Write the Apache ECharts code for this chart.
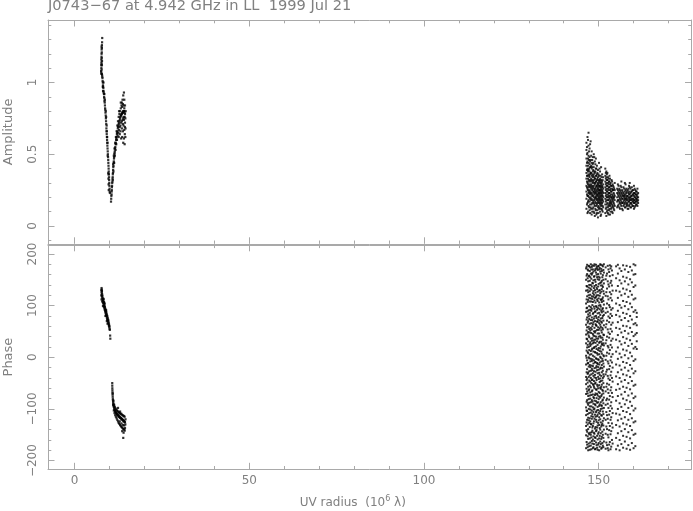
<!DOCTYPE html>
<html><head><meta charset="utf-8">
<script src="https://cdn.jsdelivr.net/npm/echarts@6/dist/echarts.min.js"></script>
<style>html,body{margin:0;padding:0;background:#fff}#c{width:693px;height:511px}</style>
</head><body><div id="c"></div>
<script>
// ---------------- data ----------------
const titleText = 'J0743\u221267 at 4.942 GHz in LL  1999 Jul 21';
const xMajorTicks = [0, 50, 100, 150];
const xMinorTicks = [10, 20, 30, 40, 60, 70, 80, 90, 110, 120, 130, 140, 160, 170];
const ampMajorTicks = [0, 0.5, 1];
const ampMinorTicks = [-0.1, 0.1, 0.2, 0.3, 0.4, 0.6, 0.7, 0.8, 0.9, 1.1, 1.2, 1.3, 1.4];
const phaseMajorTicks = [-200, -100, 0, 100, 200];
const phaseMinorTicks = [-180, -160, -140, -120, -80, -60, -40, -20, 20, 40, 60, 80, 120, 140, 160, 180];

// short baselines, amplitude: falling branch
const ampShortDown = [
[7.88,1.31],[7.84,1.28],[7.8,1.26],[7.78,1.24],[7.72,1.23],[7.75,1.21],[7.7,1.2],[7.68,1.18],[7.74,1.17],[7.62,1.16],
[7.66,1.14],[7.7,1.13],[7.6,1.12],[7.64,1.1],[7.72,1.09],[7.56,1.08],[7.6,1.07],[7.66,1.06],[7.78,1.06],[7.84,1.05],
[7.9,1.04],[7.95,1.03],[8.0,1.01],[8.06,1.0],[8.1,0.98],[8.15,0.97],[8.2,0.96],[8.24,0.94],[8.3,0.93],[8.37,0.92],
[8.42,0.9],[8.48,0.89],[8.53,0.87],[8.6,0.86],[8.66,0.84],[8.7,0.82],[8.76,0.81],[8.82,0.79],[8.88,0.77],[8.93,0.75],
[8.98,0.73],[9.03,0.71],[9.08,0.68],[9.12,0.66],[9.17,0.64],[9.22,0.62],[9.27,0.6],[9.32,0.58],[9.36,0.56],[9.41,0.54],
[9.46,0.52],[9.5,0.5],[9.55,0.48],[9.6,0.46],[9.64,0.44],[9.68,0.42],[9.72,0.4],[9.75,0.38],[9.79,0.36],[9.83,0.34],
[9.86,0.32],[9.9,0.3],[9.94,0.28],[9.98,0.26],[10.03,0.24],[10.08,0.23],
[8.04,0.97],[8.5,0.92],[8.9,0.8],[9.15,0.7],[9.3,0.62],[9.45,0.49],[9.62,0.37],[9.66,0.33],[9.7,0.29],[9.75,0.25],
[9.68,0.36],[8.25,1.0],[7.8,1.12],[9.0,0.76],[9.4,0.58],[7.7,1.25],[7.82,1.15],[8.12,0.94],[8.64,0.88],[9.2,0.66]
];
// short baselines, amplitude: rising branch
const ampShortUp = [
[10.4,0.17],[10.45,0.19],[10.5,0.21],[10.55,0.22],[10.58,0.24],[10.62,0.25],[10.66,0.27],[10.7,0.28],[10.74,0.3],[10.8,0.31],
[10.84,0.33],[10.88,0.34],[10.92,0.36],[10.96,0.37],[11.0,0.39],[11.05,0.41],[11.1,0.42],[11.15,0.44],[11.2,0.45],[11.25,0.47],
[11.3,0.48],[11.36,0.5],[11.42,0.51],[11.48,0.52],[11.55,0.54],[11.62,0.55],[11.7,0.57],[11.78,0.58],[11.85,0.6],[11.92,0.61],
[12.0,0.62],[12.08,0.64],[12.16,0.65],[12.25,0.66],[12.34,0.68],[12.42,0.69],[12.5,0.7],[12.6,0.71],[12.7,0.72],[12.8,0.73],
[12.9,0.74],[13.0,0.75],[13.1,0.76],[13.2,0.77],[13.3,0.77],[13.4,0.78],[13.5,0.78],[13.6,0.79],[13.7,0.79],[13.8,0.79],
[13.9,0.8],[14.0,0.8],[14.1,0.8],[14.2,0.8],[14.3,0.79],
[10.9,0.32],[11.0,0.43],[11.1,0.38],[11.2,0.49],[11.3,0.44],[11.4,0.54],[11.5,0.49],[11.6,0.58],[11.7,0.53],[11.8,0.62],
[11.9,0.57],[12.0,0.66],[12.1,0.6],[12.2,0.7],[12.3,0.63],[12.4,0.73],[12.5,0.65],[12.6,0.76],[12.7,0.67],[12.8,0.78],
[12.9,0.69],[13.0,0.8],[13.1,0.7],[13.2,0.82],[13.3,0.72],[13.4,0.84],[13.5,0.73],[13.6,0.83],[13.7,0.74],[13.8,0.85],
[13.9,0.75],[14.0,0.84],[14.1,0.74],[14.2,0.82],[14.3,0.76],
[12.6,0.62],[12.9,0.64],[13.1,0.66],[13.3,0.61],[13.5,0.68],[13.6,0.62],[13.8,0.66],[13.9,0.58],[14.0,0.7],[14.1,0.61],
[14.2,0.67],[14.3,0.57],[14.4,0.72],[14.35,0.64],[13.7,0.88],[13.9,0.91],[14.1,0.93],[13.5,0.86],[14.2,0.88],[14.4,0.84],
[13.2,0.86],[12.7,0.8],[14.4,0.78],[14.38,0.69],[14.0,0.76],[13.8,0.71],[14.5,0.75],[14.55,0.68],[14.5,0.62],[14.6,0.8]
];
// short baselines, phase: upper and lower branch
const phaseShortUp = [
[7.65,130],[7.7,134],[7.72,127],[7.75,124],[7.62,120],[7.8,128],[7.78,118],[7.85,122],[7.9,115],[7.68,112],
[7.95,119],[8.0,110],[8.05,114],[8.1,106],[7.88,108],[8.15,111],[8.2,104],[8.25,108],[8.3,100],[8.35,105],
[8.4,98],[8.45,102],[8.5,95],[8.55,99],[8.6,92],[8.65,97],[8.7,90],[8.75,94],[8.8,87],[8.85,92],
[8.9,85],[8.95,89],[9.0,82],[9.05,87],[9.1,80],[9.15,84],[9.2,77],[9.25,81],[9.3,74],[9.35,79],
[9.4,72],[9.45,76],[9.5,70],[9.55,73],[9.6,67],[9.65,71],[9.7,64],[9.75,67],[9.8,61],[9.85,63],
[9.9,58],[9.95,60],[10.0,55],[10.05,53],[10.15,42],[10.2,36],[8.3,113],[8.6,104],[9.0,91],[9.2,70],
[8.1,99],[8.8,80],[7.75,131],[8.4,107],[9.4,65]
];
const phaseShortDown = [
[10.75,-50],[10.76,-55],[10.78,-60],[10.8,-64],[10.82,-68],[10.85,-72],[10.88,-76],[10.92,-80],[10.95,-83],[11.0,-86],
[11.05,-89],[11.1,-91],[11.15,-94],[11.2,-96],[11.3,-99],[11.4,-101],[11.5,-103],[11.6,-104],[11.7,-106],[11.8,-107],
[11.9,-108],[12.0,-109],[12.1,-110],[12.2,-111],[12.3,-112],[12.4,-112],[12.5,-113],[12.6,-114],[12.7,-115],[12.8,-115],
[12.9,-116],[13.0,-117],[13.1,-117],[13.2,-118],[13.3,-118],[13.4,-119],[13.5,-120],[13.6,-120],[13.7,-121],[13.8,-122],
[13.9,-122],[14.0,-123],[14.1,-124],[14.2,-124],[14.3,-125],[14.4,-126],
[10.9,-70],[11.0,-92],[11.1,-84],[11.2,-103],[11.3,-92],[11.4,-108],[11.5,-96],[11.6,-112],[11.7,-99],[11.8,-115],
[11.9,-101],[12.0,-118],[12.1,-103],[12.2,-121],[12.3,-104],[12.4,-124],[12.5,-106],[12.6,-127],[12.7,-107],[12.8,-129],
[12.9,-108],[13.0,-131],[13.1,-110],[13.2,-133],[13.3,-109],[13.4,-135],[13.5,-111],[13.6,-136],[13.7,-112],[13.8,-138],
[13.9,-113],[14.0,-139],[14.1,-114],[14.2,-140],[14.3,-115],[14.4,-137],[13.4,-128],[13.8,-131],[14.2,-132],[12.9,-124],
[14.0,-146],[13.9,-156],[13.6,-143],[14.3,-142],[12.4,-98],[13.0,-105],[14.5,-130],[14.55,-120]
];

// long baselines, amplitude: columns of [uv radius, [amplitudes]]
const ampLongCols = [
[146.5,[0.12,0.19,0.24,0.28,0.33,0.37,0.42,0.47,0.53,0.58]],
[146.65,[0.15,0.22,0.27,0.31,0.35,0.39,0.44,0.50,0.55]],
[146.8,[0.09,0.16,0.21,0.26,0.30,0.35,0.40,0.45,0.51,0.62]],
[146.95,[0.10,0.17,0.21,0.25,0.29,0.33,0.38,0.42,0.47,0.60]],
[147.1,[0.14,0.18,0.23,0.27,0.31,0.36,0.39,0.44,0.49,0.56,0.65]],
[147.25,[0.13,0.20,0.24,0.28,0.32,0.35,0.40,0.46,0.52]],
[147.4,[0.11,0.17,0.22,0.25,0.29,0.34,0.38,0.43,0.48,0.54]],
[147.55,[0.09,0.15,0.19,0.23,0.27,0.31,0.36,0.41,0.45,0.57]],
[147.7,[0.13,0.20,0.24,0.28,0.32,0.37,0.41,0.46,0.59]],
[147.85,[0.12,0.18,0.22,0.26,0.29,0.33,0.37,0.42,0.49]],
[148.0,[0.08,0.15,0.19,0.23,0.27,0.31,0.35,0.40,0.44,0.52]],
[148.15,[0.10,0.16,0.21,0.25,0.28,0.32,0.36,0.41,0.46]],
[148.3,[0.12,0.18,0.22,0.26,0.30,0.34,0.38,0.43,0.48]],
[148.45,[0.13,0.17,0.21,0.24,0.27,0.31,0.35,0.39,0.44]],
[148.6,[0.10,0.16,0.20,0.24,0.28,0.32,0.36,0.41,0.50]],
[148.75,[0.09,0.15,0.18,0.23,0.26,0.30,0.34,0.38,0.48]],
[148.9,[0.07,0.14,0.19,0.22,0.25,0.29,0.33,0.37,0.45]],
[149.05,[0.12,0.17,0.20,0.24,0.26,0.30,0.33,0.38,0.43]],
[149.2,[0.11,0.16,0.20,0.23,0.27,0.31,0.35,0.40,0.47]],
[149.35,[0.08,0.14,0.19,0.21,0.24,0.28,0.31,0.35,0.40]],
[149.5,[0.09,0.15,0.18,0.22,0.25,0.28,0.32,0.36,0.42]],
[149.65,[0.11,0.16,0.19,0.22,0.26,0.29,0.33,0.37]],
[149.8,[0.06,0.13,0.17,0.21,0.24,0.27,0.30,0.34,0.39]],
[149.95,[0.09,0.14,0.18,0.20,0.23,0.26,0.29,0.32,0.36]],
[150.1,[0.12,0.16,0.19,0.22,0.25,0.28,0.31,0.35,0.44]],
[150.25,[0.13,0.17,0.20,0.23,0.25,0.28,0.32,0.40]],
[150.4,[0.10,0.15,0.18,0.21,0.24,0.27,0.30,0.33,0.38]],
[150.55,[0.07,0.12,0.16,0.19,0.22,0.25,0.28,0.31,0.35]],
[150.7,[0.08,0.14,0.17,0.20,0.23,0.26,0.29,0.32,0.41]],
[150.85,[0.12,0.15,0.18,0.21,0.24,0.27,0.30,0.34]],
[151.0,[0.11,0.16,0.19,0.22,0.25,0.28,0.31,0.36]],
[151.15,[0.10,0.14,0.18,0.21,0.24,0.27,0.32]],
[151.3,[0.13,0.17,0.20,0.23,0.26,0.29,0.34]],
[151.9,[0.09,0.15,0.19,0.23,0.27,0.31,0.35,0.40]],
[152.05,[0.12,0.17,0.21,0.25,0.29,0.33,0.37]],
[152.2,[0.07,0.13,0.18,0.22,0.26,0.30,0.34,0.38]],
[152.35,[0.10,0.15,0.20,0.24,0.28,0.32,0.36]],
[152.5,[0.11,0.16,0.20,0.24,0.28,0.32,0.37]],
[152.65,[0.09,0.13,0.18,0.22,0.26,0.30,0.34]],
[152.8,[0.08,0.14,0.18,0.21,0.25,0.29,0.33]],
[152.95,[0.11,0.15,0.20,0.23,0.27,0.31]],
[153.1,[0.12,0.16,0.19,0.23,0.27,0.31,0.35]],
[153.25,[0.08,0.14,0.17,0.21,0.25,0.29,0.33]],
[153.4,[0.10,0.15,0.18,0.22,0.26,0.30]],
[153.55,[0.12,0.16,0.20,0.24,0.28]],
[153.7,[0.13,0.17,0.20,0.24,0.28,0.32]],
[153.85,[0.10,0.15,0.19,0.22,0.26,0.31]],
[154.0,[0.09,0.14,0.18,0.21,0.25,0.29]],
[154.15,[0.13,0.17,0.20,0.25,0.28]],
[154.3,[0.12,0.16,0.19,0.23,0.27]],
[154.45,[0.11,0.15,0.20,0.22,0.26]],
[154.6,[0.14,0.18,0.21,0.25,0.30]],
[155.3,[0.13,0.17,0.20,0.23,0.26]],
[155.5,[0.14,0.18,0.22,0.25,0.29]],
[155.7,[0.15,0.18,0.21,0.24,0.28]],
[155.9,[0.13,0.17,0.20,0.23,0.26]],
[156.1,[0.12,0.16,0.19,0.22,0.25]],
[156.3,[0.15,0.18,0.21,0.24,0.28]],
[156.5,[0.14,0.17,0.20,0.23,0.27,0.31]],
[156.7,[0.12,0.16,0.19,0.22,0.25]],
[156.9,[0.11,0.16,0.19,0.21,0.24]],
[157.1,[0.14,0.17,0.21,0.23,0.27]],
[157.3,[0.15,0.18,0.20,0.22,0.26]],
[157.5,[0.13,0.16,0.19,0.21,0.24,0.30]],
[157.7,[0.13,0.17,0.19,0.22,0.25,0.29]],
[157.9,[0.15,0.18,0.20,0.23,0.26]],
[158.1,[0.14,0.16,0.19,0.21,0.24]],
[158.3,[0.12,0.15,0.18,0.21,0.25]],
[158.5,[0.12,0.17,0.20,0.23,0.26]],
[158.7,[0.14,0.17,0.19,0.22,0.24,0.28]],
[158.9,[0.15,0.18,0.20,0.22,0.27,0.30]],
[159.1,[0.13,0.16,0.18,0.20,0.23,0.26]],
[159.3,[0.13,0.16,0.19,0.21,0.24]],
[159.5,[0.15,0.18,0.21,0.24,0.27]],
[159.7,[0.14,0.17,0.19,0.22,0.25]],
[159.9,[0.14,0.17,0.19,0.22,0.25]],
[160.1,[0.12,0.16,0.18,0.21,0.23,0.28]],
[160.3,[0.13,0.16,0.18,0.20,0.23,0.26]],
[160.5,[0.14,0.17,0.20,0.22,0.25]],
[160.7,[0.15,0.17,0.19,0.22,0.24]],
[160.9,[0.15,0.18,0.19,0.21,0.24]],
[161.1,[0.14,0.17,0.20,0.22,0.26]],
[161.3,[0.16,0.18,0.20,0.23]]
];

// long baselines, phase: columns of [uv radius, [phases]]
const phaseLongCols = [
[146.4,[-176,-151,-133,-112,-97,-71,-52,-38,-14,3,27,44,63,88,104,129,150,172]],
[146.55,[-164,-141,-126,-103,-86,-61,-44,-29,-1,13,36,52,73,95,112,138,158,175]],
[146.7,[-169,-144,-121,-104,-83,-66,-41,-23,-6,19,35,58,77,96,118,137,161,179]],
[146.85,[-174,-153,-130,-110,-89,-70,-49,-32,-12,10,24,46,67,89,107,130,153,170]],
[147.0,[-180,-158,-139,-117,-92,-75,-57,-30,-11,8,31,49,70,83,111,126,147,168]],
[147.15,[-167,-147,-122,-100,-81,-64,-38,-18,0,20,42,59,79,91,120,135,157,177]],
[147.3,[-172,-149,-127,-108,-88,-62,-45,-27,-2,14,39,55,74,99,115,140,158,176]],
[147.45,[-179,-157,-135,-118,-95,-74,-55,-35,-15,5,26,48,65,86,108,128,148,167]],
[147.6,[-165,-146,-124,-101,-80,-68,-47,-19,-8,22,29,52,81,92,121,133,155,174]],
[147.75,[-171,-150,-129,-107,-87,-58,-40,-26,-3,12,36,57,72,97,114,140,162,180]],
[147.9,[-178,-155,-130,-114,-95,-73,-50,-33,-16,6,25,47,66,90,108,131,152,170]],
[148.05,[-162,-145,-119,-103,-83,-66,-44,-22,-7,15,32,54,77,94,118,137,160,175]],
[148.2,[-167,-142,-136,-110,-86,-64,-43,-25,-4,17,37,60,72,101,113,144,163,178]],
[148.35,[-176,-159,-133,-115,-97,-72,-52,-31,-17,3,27,45,64,84,107,124,143,170]],
[148.5,[-174,-153,-128,-106,-90,-77,-54,-36,-12,11,33,42,68,86,117,128,149,166]],
[148.65,[-168,-146,-124,-101,-79,-57,-46,-27,-6,18,29,50,75,98,121,134,156,177]],
[148.8,[-162,-148,-119,-99,-84,-60,-39,-21,1,20,41,57,79,94,110,138,157,180]],
[148.95,[-178,-155,-138,-111,-91,-73,-51,-34,-10,10,34,48,70,88,115,130,150,168]],
[149.1,[-177,-156,-135,-115,-93,-70,-49,-28,-9,9,28,51,64,89,106,125,146,171]],
[149.25,[-165,-143,-121,-106,-85,-62,-40,-20,-2,21,40,62,80,99,117,140,164,179]],
[149.4,[-170,-141,-125,-103,-79,-63,-44,-17,-3,16,36,61,76,97,120,135,160,175]],
[149.55,[-175,-152,-136,-114,-88,-71,-53,-25,-11,8,31,53,69,92,112,132,155,172]],
[149.7,[-179,-159,-132,-111,-96,-74,-56,-31,-13,5,24,46,69,85,109,127,151,169]],
[149.85,[-169,-148,-127,-102,-87,-60,-38,-19,-4,14,36,58,73,95,120,137,161,176]],
[150.0,[-166,-145,-122,-107,-81,-67,-42,-24,-5,18,40,53,78,100,114,142,156,177]],
[150.15,[-180,-157,-131,-116,-94,-76,-54,-30,-14,6,28,46,66,86,106,129,150,170]],
[150.3,[-173,-152,-137,-109,-91,-69,-48,-34,-10,12,30,56,71,93,119,130,154,173]],
[150.45,[-163,-140,-120,-104,-78,-59,-41,-22,1,17,41,63,82,101,124,144,166,180]],
[150.6,[-168,-147,-126,-100,-87,-61,-46,-20,-1,21,38,59,75,98,112,139,162,179]],
[150.75,[-177,-158,-134,-112,-93,-75,-57,-36,-8,11,30,52,69,90,111,127,145,171]],
[150.9,[-175,-154,-131,-113,-94,-72,-53,-29,-15,7,26,48,67,87,107,132,148,167]],
[151.05,[-166,-144,-128,-99,-84,-63,-45,-21,-3,24,38,57,76,93,113,139,155,178]],
[151.2,[-171,-150,-123,-105,-82,-65,-40,-26,-7,15,34,54,80,95,116,136,159,176]],
[151.35,[-174,-156,-132,-110,-89,-70,-50,-33,-12,4,27,44,71,89,109,128,150,169]],
[151.5,[-163,-140,-118,-98,-78,-58,-37,-18,2,23,43,62,82,102,123,143,164,180]],
[152.0,[-177,-148,-121,-92,-66,-33,-5,27,58,86,119,151,174]],
[152.2,[-165,-134,-106,-83,-57,-28,3,33,64,95,126,158]],
[152.4,[-170,-139,-112,-80,-51,-24,9,40,71,104,133,162]],
[152.6,[-176,-150,-119,-90,-62,-36,-8,22,54,88,118,147,177]],
[152.8,[-180,-155,-127,-98,-69,-41,-12,19,48,79,112,141,170]],
[153.0,[-169,-141,-111,-82,-53,-23,7,38,68,101,137,165]],
[153.2,[-164,-133,-104,-75,-44,-17,14,45,76,97,126,157,178]],
[153.4,[-178,-149,-121,-94,-64,-35,-6,24,55,84,115,144,172]],
[153.6,[-173,-143,-116,-87,-58,-28,1,32,63,92,122,148,176]],
[153.8,[-160,-128,-99,-69,-40,-10,19,50,80,110,139,168]],
[154.0,[-167,-136,-108,-77,-47,-20,6,36,67,95,129,159]],
[155.0,[-178,-156,-131,-109,-84,-63,-37,-14,11,34,57,82,104,129,153,176]],
[155.5,[-171,-147,-122,-100,-75,-52,-29,-3,19,43,68,90,115,138,162,179]],
[156.0,[-180,-160,-134,-111,-89,-61,-40,-16,7,31,55,79,101,127,149,172]],
[156.5,[-168,-143,-119,-96,-72,-47,-24,0,25,48,72,96,120,143,167]],
[157.0,[-175,-152,-128,-104,-80,-57,-33,-9,15,39,61,86,109,133,156,178]],
[157.5,[-163,-139,-116,-91,-67,-44,-20,4,28,51,76,99,123,147,170]],
[158.0,[-177,-154,-130,-106,-83,-59,-35,-11,13,36,60,84,107,131,154,177]],
[158.5,[-170,-145,-121,-98,-74,-50,-26,-2,22,46,70,93,117,141,165]],
[159.0,[-179,-157,-133,-110,-86,-62,-38,-15,9,33,57,80,104,128,151,175]],
[159.5,[-166,-141,-118,-94,-70,-46,-22,2,26,49,73,97,121,145,168]],
[160.0,[-176,-150,-126,-103,-79,-55,-31,-7,17,41,64,88,112,136,160,180]],
[160.5,[-172,-148,-124,-99,-76,-53,-27,-4,20,44,66,91,114,139,161,178]],
[160.9,[16,31,47,62,78,86]]
];

// ---------------- chart ----------------
function flatten(cols) {
  const out = [];
  cols.forEach(function (c) { c[1].forEach(function (v) { out.push([c[0], v]); }); });
  return out;
}
const LINE = '#a9a9a9', TEXT = '#808080', FONT = 'DejaVu Sans';
const X_MIN = -7.64, X_MAX = 176.58;
const AMP_MIN = -0.124, AMP_MAX = 1.4355;
const PH_MIN = -216.8, PH_MAX = 217.7;
const MAJ = 6.5, MIN = 3.3;
const fmtNum = function (v) { return String(v).replace('-', '\u2212'); };

function ax(grid, pos, min, max, ticks, len, showLine, labelOpt, extra) {
  const o = {
    type: 'value', gridIndex: grid, position: pos, min: min, max: max,
    axisLine: { show: showLine, onZero: false, lineStyle: { color: LINE, width: 1 } },
    axisTick: { show: true, inside: true, length: len, customValues: ticks, lineStyle: { color: LINE, width: 1 } },
    axisLabel: labelOpt ? Object.assign({ show: true, color: TEXT, fontFamily: FONT, fontSize: 12, formatter: fmtNum }, labelOpt)
                        : { show: false },
    splitLine: { show: false }, minorTick: { show: false }
  };
  return Object.assign(o, extra || {});
}

const xAxes = [];
const yAxes = [];
[0, 1].forEach(function (g) {
  const bottomLabels = g === 1 ? { customValues: xMajorTicks, margin: 6 } : null;
  const nameOpt = g === 1 ? {
    name: 'UV radius  (10{s|6} \u03bb)', nameLocation: 'middle', nameGap: 26,
    nameTextStyle: { color: TEXT, fontFamily: FONT, fontSize: 12, padding: [0, 34, 0, 0],
      rich: { s: { fontSize: 8, color: TEXT, fontFamily: FONT, padding: [0, 0, 7, 0] } } }
  } : {};
  xAxes.push(ax(g, 'bottom', X_MIN, X_MAX, xMajorTicks, MAJ, true, bottomLabels, nameOpt));
  xAxes.push(ax(g, 'bottom', X_MIN, X_MAX, xMinorTicks, MIN, false, null));
  xAxes.push(ax(g, 'top', X_MIN, X_MAX, xMajorTicks, MAJ, true, null));
  xAxes.push(ax(g, 'top', X_MIN, X_MAX, xMinorTicks, MIN, false, null));
  const ymin = g === 0 ? AMP_MIN : PH_MIN, ymax = g === 0 ? AMP_MAX : PH_MAX;
  const maj = g === 0 ? ampMajorTicks : phaseMajorTicks, mnr = g === 0 ? ampMinorTicks : phaseMinorTicks;
  yAxes.push(ax(g, 'left', ymin, ymax, maj, MAJ, true, { customValues: maj, rotate: 90, margin: 9 }, {
    name: g === 0 ? 'Amplitude' : 'Phase', nameLocation: 'middle', nameRotate: 90, nameGap: 33,
    nameTextStyle: { color: TEXT, fontFamily: FONT, fontSize: 13 }
  }));
  yAxes.push(ax(g, 'left', ymin, ymax, mnr, MIN, false, null));
  yAxes.push(ax(g, 'right', ymin, ymax, maj, MAJ, true, null));
  yAxes.push(ax(g, 'right', ymin, ymax, mnr, MIN, false, null));
});

function dots(name, data, xi, yi, size) {
  return { name: name, type: 'scatter', xAxisIndex: xi, yAxisIndex: yi, data: data,
    symbol: 'rect', symbolSize: size, silent: true, itemStyle: { color: '#000' } };
}

const chart = echarts.init(document.getElementById('c'));
chart.setOption({
  animation: false,
  backgroundColor: '#fff',
  title: [{ text: titleText, left: 48, top: -1, padding: 0,
    textStyle: { color: TEXT, fontFamily: FONT, fontSize: 14.6, fontWeight: 'normal' } }],
  grid: [
    { left: 48, top: 20, width: 643.5, height: 223.8, containLabel: false, outerBoundsMode: 'none' },
    { left: 48, top: 244.8, width: 643.5, height: 224.5, containLabel: false, outerBoundsMode: 'none' }
  ],
  xAxis: xAxes,
  yAxis: yAxes,
  series: [
    dots('Amplitude short (falling)', ampShortDown, 0, 0, 2.2),
    dots('Amplitude short (rising)', ampShortUp, 0, 0, 2.2),
    dots('Amplitude long', flatten(ampLongCols), 0, 0, 2),
    dots('Phase short (upper)', phaseShortUp, 4, 4, 2.2),
    dots('Phase short (lower)', phaseShortDown, 4, 4, 2.2),
    dots('Phase long', flatten(phaseLongCols), 4, 4, 2)
  ]
});
</script>
</body></html>
